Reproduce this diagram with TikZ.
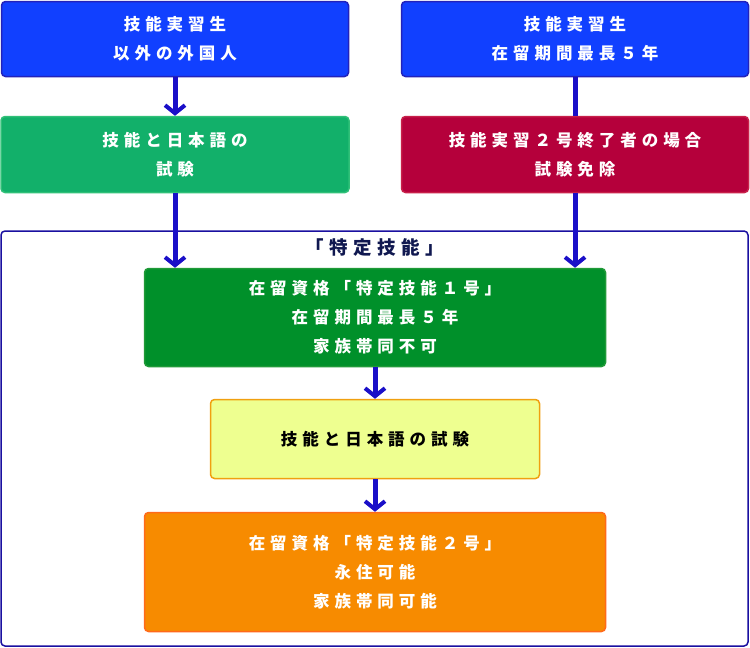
\documentclass[tikz,border=0pt]{standalone}
\usepackage{fontspec}
\usepackage{xcolor}
\usetikzlibrary{arrows.meta}
\newfontfamily\jpfont[LetterSpace=30]{Noto Sans CJK JP}

\definecolor{kikaku}{HTML}{1140FF}
\definecolor{kikakuline}{HTML}{2222BB}
\definecolor{shiken}{HTML}{12B06A}
\definecolor{shikenline}{HTML}{30C078}
\definecolor{menjo}{HTML}{B5003B}
\definecolor{menjoline}{HTML}{C8204A}
\definecolor{ichigo}{HTML}{00902A}
\definecolor{ichigoline}{HTML}{209A38}
\definecolor{kimiro}{HTML}{EEFF90}
\definecolor{kimiroline}{HTML}{F0A010}
\definecolor{nigo}{HTML}{F78B00}
\definecolor{nigoline}{HTML}{FF6A1A}
\definecolor{yajirushi}{HTML}{1A0FC8}
\definecolor{waku}{HTML}{1A10A0}
\definecolor{midashi}{HTML}{101850}

\tikzset{
  box/.style={draw, line width=1.5pt, rounded corners=4pt, inner sep=0pt,
    align=center, text=white,
    font=\jpfont\bfseries\fontsize{16.5}{29}\selectfont},
  flow/.style={yajirushi, line width=5pt,
    -{Straight Barb[length=8pt,width=20pt,line width=4pt]}},
  link/.style={yajirushi, line width=5pt}
}

\begin{document}
\begin{tikzpicture}[x=1pt,y=-1pt]
\useasboundingbox (0,0) rectangle (750,648);
% upper boxes
\node[box, fill=kikaku, draw=kikakuline, minimum width=347, minimum height=75]
  (jisshuigai) at (175,39) {技能実習生\\以外の外国人};
\node[box, fill=kikaku, draw=kikakuline, minimum width=347, minimum height=75]
  (jisshusei) at (575,39) {技能実習生\\在留期間最長５年};
\node[box, fill=shiken, draw=shikenline, minimum width=348, minimum height=76]
  (shikenA) at (175,154.5) {技能と日本語の\\試験};
\node[box, fill=menjo, draw=menjoline, minimum width=347, minimum height=76]
  (menjo) at (575,154.5) {技能実習２号終了者の場合\\試験免除};
% frame
\draw[waku, line width=1.5pt, rounded corners=4pt] (1,231) rectangle (748,646);
\node[font=\jpfont\bfseries\fontsize{18.5}{20}\selectfont, text=midashi]
  (midashi) at (375,247) {「特定技能」};
% lower boxes
\node[box, fill=ichigo, draw=ichigoline, minimum width=461, minimum height=98]
  (ichigo) at (375,317.5) {在留資格「特定技能１号」\\在留期間最長５年\\家族帯同不可};
\node[box, fill=kimiro, draw=kimiroline, text=black, minimum width=329, minimum height=79]
  (shikenB) at (375,439) {技能と日本語の試験};
\node[box, fill=nigo, draw=nigoline, minimum width=461, minimum height=119]
  (nigo) at (375,572) {在留資格「特定技能２号」\\永住可能\\家族帯同可能};
% connectors
\draw[flow] (jisshuigai.south) -- (shikenA.north);
\draw[link] (jisshusei.south) -- (menjo.north);
\draw[flow] (shikenA.south) -- (shikenA.south |- ichigo.north);
\draw[flow] (menjo.south) -- (menjo.south |- ichigo.north);
\draw[flow] (ichigo.south) -- (shikenB.north);
\draw[flow] (shikenB.south) -- (nigo.north);
\end{tikzpicture}
\end{document}
